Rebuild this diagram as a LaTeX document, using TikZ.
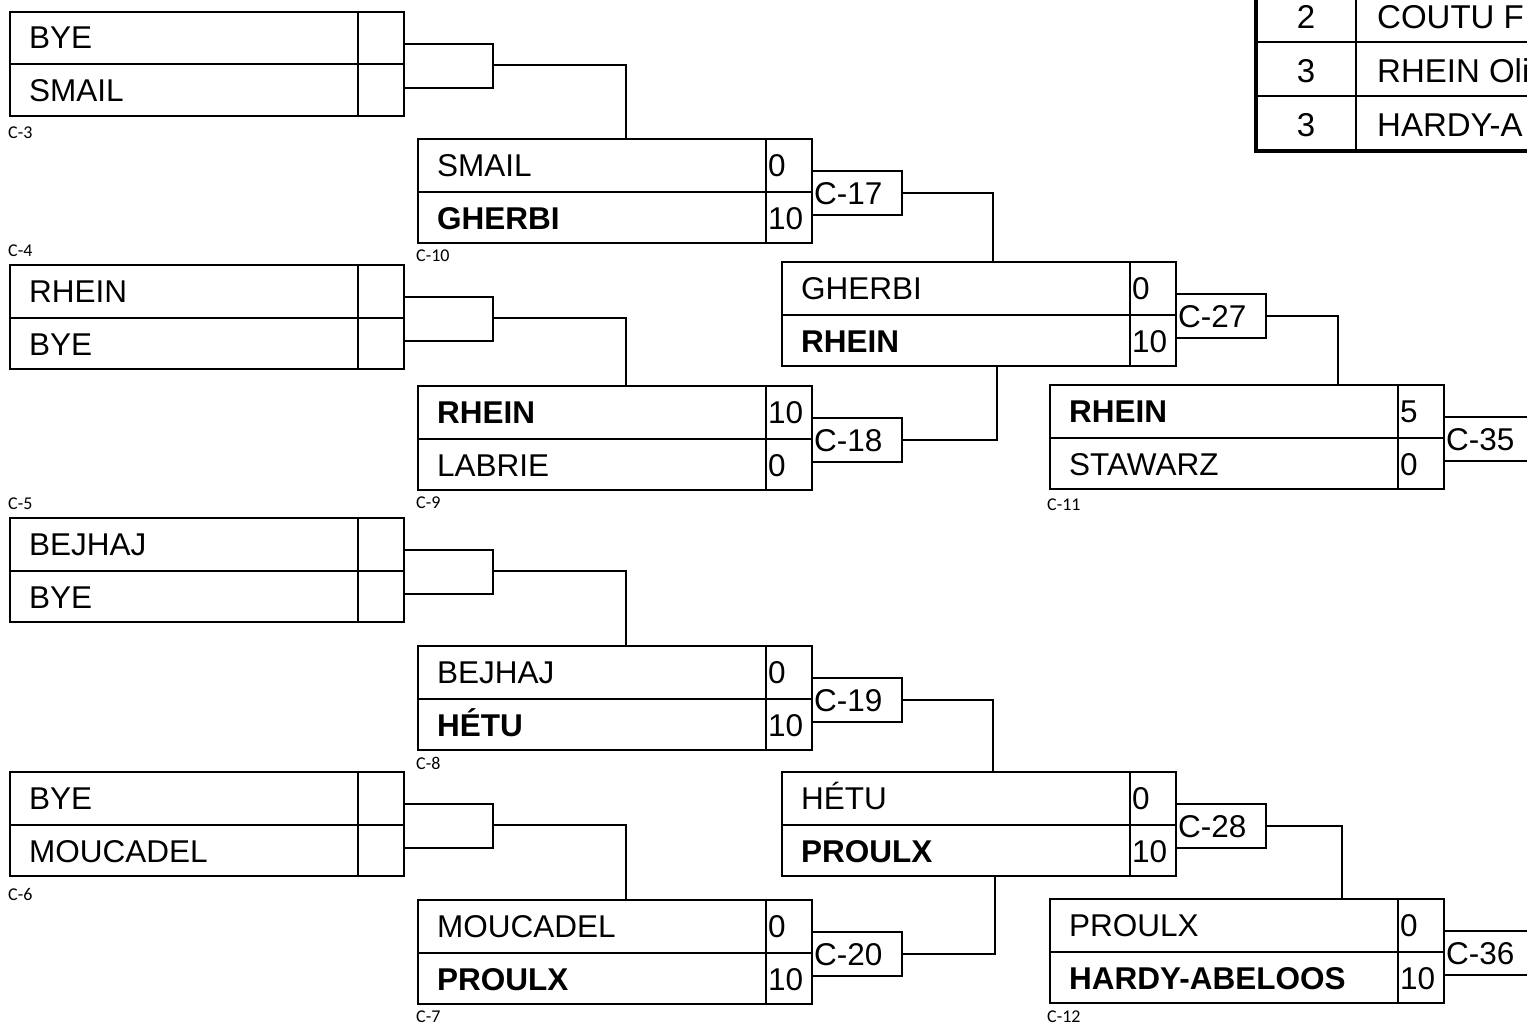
\documentclass[tikz,border=0pt]{standalone}
\usepackage{fontspec}
\setmainfont{Liberation Sans}
\newfontfamily\labfont{Carlito}
\tikzset{
  mbox/.style={draw, line width=2pt, minimum width=394pt, minimum height=104pt, anchor=north west, inner sep=0pt, outer sep=0pt},
  lb/.style={draw, line width=2pt, minimum width=90pt, minimum height=44pt, anchor=north west, inner sep=0pt, outer sep=0pt},
  boxline/.style={line width=2pt},
  conn/.style={line width=1.8pt},
  nm/.style={anchor=base west, inner sep=0pt, font=\fontsize{31.5}{37}\selectfont},
  sl/.style={anchor=west, inner sep=0pt, font=\labfont\fontsize{18}{21}\selectfont},
  tb/.style={inner sep=0pt, font=\fontsize{33}{40}\selectfont}
}
\newcommand\matchbox[7]{%
  \node[mbox] (#1) at (#2,#3) {};
  \draw[boxline] ([yshift=-52.5pt]#1.north west) -- ([yshift=-52.5pt]#1.north east);
  \draw[boxline] ([xshift=348pt]#1.north west) -- ([xshift=348pt]#1.south west);
  \node[nm] (#1t) at ([xshift=19pt,yshift=-37pt]#1.north west) {#4};
  \node[nm] (#1b) at ([xshift=19pt,yshift=-90pt]#1.north west) {#5};
  \node[nm] (#1s) at ([xshift=350pt,yshift=-37pt]#1.north west) {#6};
  \node[nm] (#1u) at ([xshift=350pt,yshift=-90pt]#1.north west) {#7};
}
\newcommand\labbox[4]{%
  \node[lb] (#1) at (#2,#3) {};
  \node[nm] (#1x) at ([xshift=2pt,yshift=-33pt]#1.north west) {#4};
}
\begin{document}
\begin{tikzpicture}[x=1pt,y=-1pt]
\useasboundingbox (0,0) rectangle (1527,1025);
\clip (0,0) rectangle (1527,1025);
\fill[white] (0,0) rectangle (1527,1025);

% round 1
\matchbox{b3}{10}{12}{BYE}{SMAIL}{}{}
\matchbox{b4}{10}{265}{RHEIN}{BYE}{}{}
\matchbox{b5}{10}{518}{BEJHAJ}{BYE}{}{}
\matchbox{b6}{10}{772}{BYE}{MOUCADEL}{}{}
% round 2
\matchbox{c10}{418}{139}{SMAIL}{\textbf{GHERBI}}{0}{10}
\matchbox{c9}{418}{386}{\textbf{RHEIN}}{LABRIE}{10}{0}
\matchbox{c8}{418}{646}{BEJHAJ}{\textbf{HÉTU}}{0}{10}
\matchbox{c7}{418}{900}{MOUCADEL}{\textbf{PROULX}}{0}{10}
% round 3
\matchbox{d1}{782}{262}{GHERBI}{\textbf{RHEIN}}{0}{10}
\matchbox{d2}{782}{772}{HÉTU}{\textbf{PROULX}}{0}{10}
% round 4
\matchbox{e1}{1050}{385}{\textbf{RHEIN}}{STAWARZ}{5}{0}
\matchbox{e2}{1050}{899}{PROULX}{\textbf{HARDY-ABELOOS}}{0}{10}

% match labels
\labbox{l17}{812}{171}{C-17}
\labbox{l18}{812}{418}{C-18}
\labbox{l19}{812}{678}{C-19}
\labbox{l20}{812}{932}{C-20}
\labbox{l27}{1176}{294}{C-27}
\labbox{l28}{1176}{804}{C-28}
\labbox{l35}{1444}{417}{C-35}
\labbox{l36}{1444}{931}{C-36}

% round 1 brackets
\foreach \b/\c in {b3/c10, b4/c9, b5/c8, b6/c7}{
  \draw[conn] ([yshift=-32pt]\b.north east) -- ++(89,0) |- ([yshift=-76pt]\b.north east);
  \draw[conn] ([shift={(89pt,-53pt)}]\b.north east) -| ([xshift=208pt]\c.north west);
}
% later connectors
\draw[conn] (l17.east) -| ([xshift=211pt]d1.north west);
\draw[conn] (l18.east) -| ([xshift=215pt]d1.south west);
\draw[conn] (l19.east) -| ([xshift=211pt]d2.north west);
\draw[conn] (l20.east) -| ([xshift=213pt]d2.south west);
\draw[conn] (l27.east) -| ([xshift=288pt]e1.north west);
\draw[conn] (l28.east) -| ([xshift=292pt]e2.north west);

% small labels
\node[sl] (n3) at (8,133) {C-3};
\node[sl] (n4) at (8,251) {C-4};
\node[sl] (n5) at (8,504) {C-5};
\node[sl] (n6) at (8,894) {C-6};
\node[sl] (n10) at (416,256) {C-10};
\node[sl] (n9) at (416,503) {C-9};
\node[sl] (n8) at (416,763) {C-8};
\node[sl] (n7) at (416,1017) {C-7};
\node[sl] (n11) at (1047,505) {C-11};
\node[sl] (n12) at (1047,1017) {C-12};

% ranking table
\draw[boxline] (1256,42) -- (1560,42);
\draw[boxline] (1256,96) -- (1560,96);
\draw[boxline] (1356,-20) -- (1356,151);
\draw[line width=3.5pt] (1256,-20) -- (1256,151) -- (1560,151);
\node[tb, anchor=base] (r1n) at (1306,29) {2};
\node[tb, anchor=base] (r2n) at (1306,82) {3};
\node[tb, anchor=base] (r3n) at (1306,136) {3};
\node[tb, anchor=base west] (r1t) at (1377,29) {COUTU F};
\node[tb, anchor=base west] (r2t) at (1377,82) {RHEIN Oli};
\node[tb, anchor=base west] (r3t) at (1377,136) {HARDY-A};
\end{tikzpicture}
\end{document}
